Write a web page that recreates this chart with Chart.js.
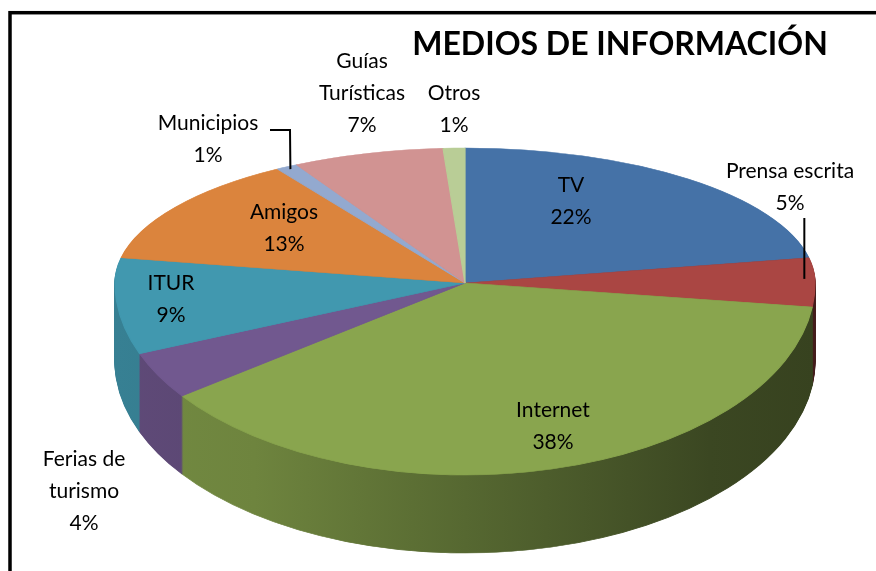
<!DOCTYPE html>
<html>
<head>
<meta charset="utf-8">
<script src="https://cdn.jsdelivr.net/npm/chart.js@4.4.1/dist/chart.umd.min.js"></script>
<style>
  html, body { margin: 0; padding: 0; background: #fff; }
  #grafico { display: block; }
</style>
</head>
<body>
<canvas id="grafico" width="876" height="571"></canvas>
<script>
// Datos del gráfico
const categorias = ['TV', 'Prensa escrita', 'Internet', 'Ferias de turismo', 'ITUR', 'Amigos', 'Municipios', 'Guías Turísticas', 'Otros'];
const porcentajes = [22, 5, 38, 4, 9, 13, 1, 7, 1];
const colores = ['#4572A7', '#AA4643', '#89A54E', '#71588F', '#4198AF', '#DB843D', '#93A9CF', '#D19392', '#B9CD96'];

// Geometría de la tarta en 3D (centro, radios y grosor)
const CX = 465, CY = 283;
const RX = 350, RY_ARRIBA = 135, RY_ABAJO = 192;
const PROF = 78;

// Cortes de línea de las etiquetas largas
const saltos = { 3: ['Ferias de', 'turismo'], 7: ['Guías', 'Turísticas'] };

// Centro de cada bloque de etiqueta
const posEtiquetas = [
    [571, 201], [790, 187], [553, 426], [84, 491], [171, 299],
    [284, 228], [208, 139], [362, 93], [454, 109]
];

function oscurecer(hex, f) {
    const n = parseInt(hex.slice(1), 16);
    const r = Math.round(((n >> 16) & 255) * f);
    const g = Math.round(((n >> 8) & 255) * f);
    const b = Math.round((n & 255) * f);
    return `rgb(${r}, ${g}, ${b})`;
}

function proyectar(ang, f) {
    const s = Math.sin(ang);
    return [CX + Math.cos(ang) * f * RX, CY + s * f * (s < 0 ? RY_ARRIBA : RY_ABAJO)];
}

// Plugin: dibuja la tarta inclinada con sus laterales
const tarta3d = {
    id: 'tarta3d',
    beforeDatasetsDraw(chart) {
        const ctx = chart.ctx;
        const arcos = chart.getDatasetMeta(0).data;
        const ox = arcos[0].x, oy = arcos[0].y, R = arcos[0].outerRadius;
        const W = chart.width, H = chart.height;

        const laterales = colores.map(c => {
            const g = ctx.createLinearGradient(ox - R, 0, ox + R, 0);
            g.addColorStop(0, oscurecer(c, 0.84));
            g.addColorStop(0.2, oscurecer(c, 0.8));
            g.addColorStop(0.5, oscurecer(c, 0.63));
            g.addColorStop(0.85, oscurecer(c, 0.43));
            g.addColorStop(1, oscurecer(c, 0.4));
            return g;
        });

        function cara(dy, rellenos) {
            [[0, CY + dy, RY_ARRIBA], [CY + dy, H, RY_ABAJO]].forEach(([y0, y1, ry]) => {
                ctx.save();
                ctx.beginPath();
                ctx.rect(0, y0, W, y1 - y0);
                ctx.clip();
                ctx.translate(CX, CY + dy);
                ctx.scale(RX / R, ry / R);
                ctx.translate(-ox, -oy);
                arcos.forEach((arc, i) => {
                    const orig = arc.options;
                    arc.options = Object.assign({}, orig, { backgroundColor: rellenos[i], borderColor: rellenos[i] });
                    arc.draw(ctx);
                    arc.options = orig;
                });
                ctx.restore();
            });
        }

        for (let dy = PROF; dy >= 1; dy--) cara(dy, laterales);
        cara(0, colores);
        return false;
    },
    afterDraw(chart) {
        const ctx = chart.ctx;
        const arcos = chart.getDatasetMeta(0).data;
        const medio = i => (arcos[i].startAngle + arcos[i].endAngle) / 2;

        ctx.save();
        // líneas guía
        ctx.strokeStyle = '#000';
        ctx.lineWidth = 2;
        let p = proyectar(medio(1), 0.97);
        ctx.beginPath();
        ctx.moveTo(p[0], 218);
        ctx.lineTo(p[0], p[1]);
        ctx.stroke();
        p = proyectar(medio(6), 0.98);
        ctx.beginPath();
        ctx.moveTo(270, 130);
        ctx.lineTo(290, 130);
        ctx.lineTo(p[0], p[1]);
        ctx.stroke();

        // etiquetas
        ctx.fillStyle = '#000';
        ctx.font = '21px Lato';
        ctx.textAlign = 'center';
        ctx.textBaseline = 'middle';
        categorias.forEach((nombre, i) => {
            const lineas = (saltos[i] || [nombre]).concat([porcentajes[i] + '%']);
            const [x, y] = posEtiquetas[i];
            const y0 = y - (lineas.length - 1) * 32 / 2;
            lineas.forEach((t, k) => ctx.fillText(t, x, y0 + k * 32));
        });

        // título
        ctx.font = 'bold 32px Lato';
        ctx.textBaseline = 'alphabetic';
        ctx.fillText('MEDIOS DE INFORMACIÓN', 620, 55, 416);

        // marco
        ctx.lineWidth = 3.5;
        ctx.strokeRect(10, 12.7, 1000, 1000);
        ctx.restore();
    }
};

new Chart(document.getElementById('grafico'), {
    type: 'pie',
    data: {
        labels: categorias,
        datasets: [{
            data: porcentajes,
            backgroundColor: colores,
            borderColor: colores,
            borderWidth: 1
        }]
    },
    options: {
        responsive: false,
        animation: false,
        events: [],
        plugins: {
            legend: { display: false },
            tooltip: { enabled: false }
        }
    },
    plugins: [tarta3d]
});
</script>
</body>
</html>
